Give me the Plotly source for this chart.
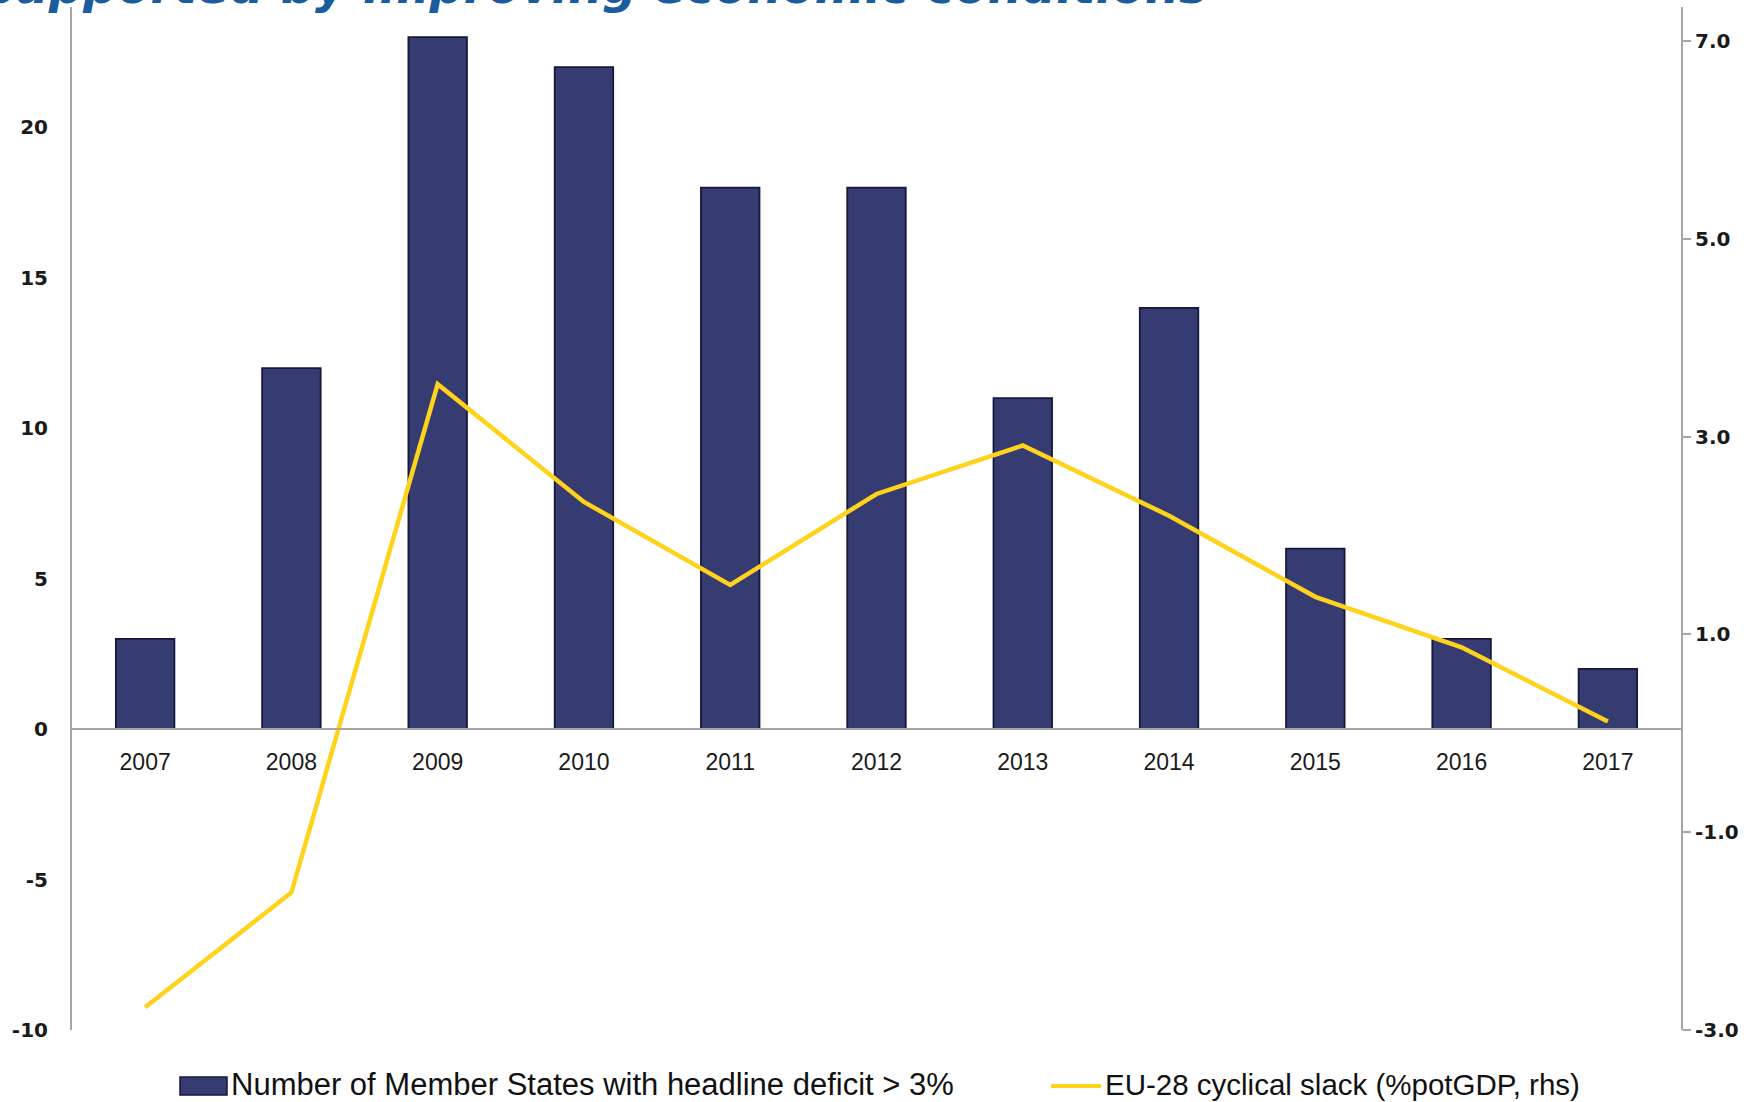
import plotly.graph_objects as go

# --- data ---------------------------------------------------------------
years = ["2007", "2008", "2009", "2010", "2011", "2012",
         "2013", "2014", "2015", "2016", "2017"]
deficit_states = [3, 12, 23, 22, 18, 18, 11, 14, 6, 3, 2]
cyclical_slack = [-2.77, -1.61, 3.53, 2.34, 1.50, 2.42,
                  2.91, 2.20, 1.38, 0.87, 0.12]

left_ticks = [-10, -5, 0, 5, 10, 15, 20]
left_labels = ["-10", "-5", "0", "5", "10", "15", "20"]
right_ticks = [-3.0, -1.0, 1.0, 3.0, 5.0, 7.0]
right_labels = ["-3.0", "-1.0", "1.0", "3.0", "5.0", "7.0"]

bar_name = "Number of Member States with headline deficit > 3%"
line_name = "EU-28 cyclical slack (%potGDP, rhs)"
title_text = "supported by improving economic conditions"

# --- styling ------------------------------------------------------------
W, H = 1753, 1102
M_L, M_R, M_T, M_B = 72, 72, 7, 72
NAVY = "#363b72"
NAVY_EDGE = "#15183a"
YELLOW = "#ffd21c"
AXIS_GREY = "#a6a6a6"
TICK_FONT = dict(family="DejaVu Sans", size=20, color="#1a1a1a", weight="bold")

LEFT_RANGE = [-10, 24.0]
RIGHT_RANGE = [-3, 7.344]

plot_w = W - M_L - M_R
plot_h = H - M_T - M_B


def px_x(x):
    return (x - M_L) / plot_w


def px_y(y):
    return (H - M_B - y) / plot_h


fig = go.Figure()

fig.add_trace(go.Bar(
    x=years, y=deficit_states, name=bar_name,
    width=0.40,
    marker=dict(color=NAVY, line=dict(color=NAVY_EDGE, width=1.8)),
    yaxis="y", showlegend=False,
))

fig.add_trace(go.Scatter(
    x=years, y=cyclical_slack, name=line_name, mode="lines",
    line=dict(color=YELLOW, width=4.5),
    yaxis="y2", showlegend=False,
))

zero_pos = (0 - LEFT_RANGE[0]) / (LEFT_RANGE[1] - LEFT_RANGE[0])

fig.update_layout(
    width=W, height=H,
    margin=dict(l=M_L, r=M_R, t=M_T, b=M_B, pad=0),
    paper_bgcolor="white", plot_bgcolor="white",
    bargap=0.6,
    xaxis=dict(
        type="category", range=[-0.5, 10.5],
        anchor="free", position=zero_pos,
        showline=True, linecolor=AXIS_GREY, linewidth=2,
        showgrid=False, zeroline=False,
        ticks="outside", ticklen=12, tickcolor="rgba(0,0,0,0)",
        tickfont=dict(family="Liberation Sans", size=23, color="#1a1a1a"),
    ),
    yaxis=dict(
        range=LEFT_RANGE, tickvals=left_ticks, ticktext=left_labels,
        showline=True, linecolor=AXIS_GREY, linewidth=2,
        showgrid=False, zeroline=False,
        ticks="outside", ticklen=18, tickcolor="rgba(0,0,0,0)",
        tickfont=TICK_FONT,
    ),
    yaxis2=dict(
        range=RIGHT_RANGE, tickvals=right_ticks, ticktext=right_labels,
        overlaying="y", side="right", anchor="x",
        showline=True, linecolor=AXIS_GREY, linewidth=2,
        showgrid=False, zeroline=False,
        ticks="outside", ticklen=8, tickcolor=AXIS_GREY, tickwidth=1.5,
        tickfont=TICK_FONT,
    ),
    showlegend=False,
)

# headline, mostly running off the top of the canvas
fig.add_annotation(
    text=f"<b><i>{title_text}</i></b>",
    xref="paper", yref="paper",
    x=px_x(1210), y=px_y(16),
    xanchor="right", yanchor="bottom",
    showarrow=False,
    font=dict(family="DejaVu Sans", size=48, color="#1b5c9e"),
)

# legend built from shapes and text
legend_y = 1086
fig.add_shape(
    type="rect", xref="paper", yref="paper",
    x0=px_x(180), x1=px_x(227), y0=px_y(1077), y1=px_y(1095),
    fillcolor=NAVY, line=dict(color=NAVY_EDGE, width=1.5),
)
fig.add_annotation(
    text=bar_name, xref="paper", yref="paper",
    x=px_x(229), y=px_y(legend_y - 2), xanchor="left", yanchor="middle",
    showarrow=False,
    font=dict(family="Liberation Sans", size=31, color="#111111"),
)
fig.add_shape(
    type="line", xref="paper", yref="paper",
    x0=px_x(1051), x1=px_x(1101), y0=px_y(legend_y), y1=px_y(legend_y),
    line=dict(color=YELLOW, width=4),
)
fig.add_annotation(
    text=line_name, xref="paper", yref="paper",
    x=px_x(1103), y=px_y(legend_y - 2), xanchor="left", yanchor="middle",
    showarrow=False,
    font=dict(family="Liberation Sans", size=29.5, color="#111111"),
)

fig.write_html("out.html")
